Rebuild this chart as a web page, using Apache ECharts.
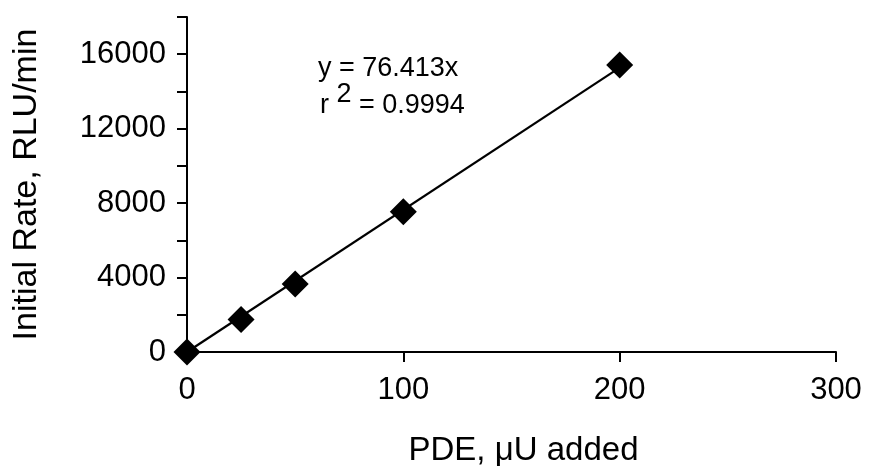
<!DOCTYPE html>
<html>
<head>
<meta charset="utf-8">
<script src="https://cdn.jsdelivr.net/npm/echarts@6/dist/echarts.min.js"></script>
<style>html,body{margin:0;padding:0;background:#fff}#c{width:874px;height:475px}</style>
</head>
<body>
<div id="c"></div>
<script>
const pdeAdded = [0, 25, 50, 100, 200];
const initialRate = [0, 1750, 3650, 7530, 15420];
const trendX = [0, 200];
const trendY = [0, 15283];
const xTicks = [0, 100, 200, 300];
const yLabelTicks = [0, 4000, 8000, 12000, 16000];
const xName = 'PDE, \u03bcU added';
const yName = 'Initial Rate, RLU/min';
const eqLine1 = 'y = 76.413x';
const eqR = 'r ';
const eqSup = '2';
const eqRest = ' = 0.9994';

const font = 'Liberation Sans, Arial, sans-serif';
const chart = echarts.init(document.getElementById('c'), null, {renderer: 'canvas'});
chart.setOption({
  animation: false,
  backgroundColor: '#fff',
  grid: {left: 187, right: 38, top: 17, bottom: 123, containLabel: false},
  xAxis: {
    type: 'value', min: 0, max: 300, interval: 100,
    name: xName, nameLocation: 'middle', nameGap: 82,
    nameTextStyle: {fontFamily: font, fontSize: 33, color: '#000', padding: [0, 0, 0, 24]},
    axisLine: {lineStyle: {color: '#000', width: 2}},
    axisTick: {show: true, length: 10, inside: false, lineStyle: {color: '#000', width: 2}},
    axisLabel: {fontFamily: font, fontSize: 31, color: '#000', margin: 23,
      formatter: v => xTicks.includes(v) ? String(v) : ''},
    splitLine: {show: false}
  },
  yAxis: {
    type: 'value', min: 0, max: 18000, interval: 2000,
    name: yName, nameLocation: 'middle', nameGap: 143,
    nameTextStyle: {fontFamily: font, fontSize: 34, color: '#000'},
    axisLine: {show: true, lineStyle: {color: '#000', width: 2}},
    axisTick: {show: true, length: 10, inside: false, lineStyle: {color: '#000', width: 2}},
    axisLabel: {fontFamily: font, fontSize: 31, color: '#000', margin: 21,
      formatter: v => yLabelTicks.includes(v) ? String(v) : ''},
    splitLine: {show: false}
  },
  series: [
    {type: 'line', data: trendX.map((x, i) => [x, trendY[i]]), symbol: 'none',
      lineStyle: {color: '#000', width: 2.2}, z: 2},
    {type: 'scatter', data: pdeAdded.map((x, i) => [x, initialRate[i]]), symbol: 'diamond',
      symbolSize: 27, itemStyle: {color: '#000', opacity: 1}, z: 3}
  ],
  graphic: [
    {type: 'text', left: 318, top: 55, style: {text: eqLine1, font: '27px ' + font, fill: '#000'}},
    {type: 'text', left: 320, top: 81, style: {
      text: '{r|' + eqR + '}{s|' + eqSup + '}{r|' + eqRest + '}',
      rich: {
        r: {fontFamily: font, fontSize: 27, fill: '#000', verticalAlign: 'bottom', lineHeight: 38},
        s: {fontFamily: font, fontSize: 27, fill: '#000', verticalAlign: 'top', lineHeight: 38, padding: [0, 0, 13, 0]}
      }
    }}
  ]
});
</script>
</body>
</html>
